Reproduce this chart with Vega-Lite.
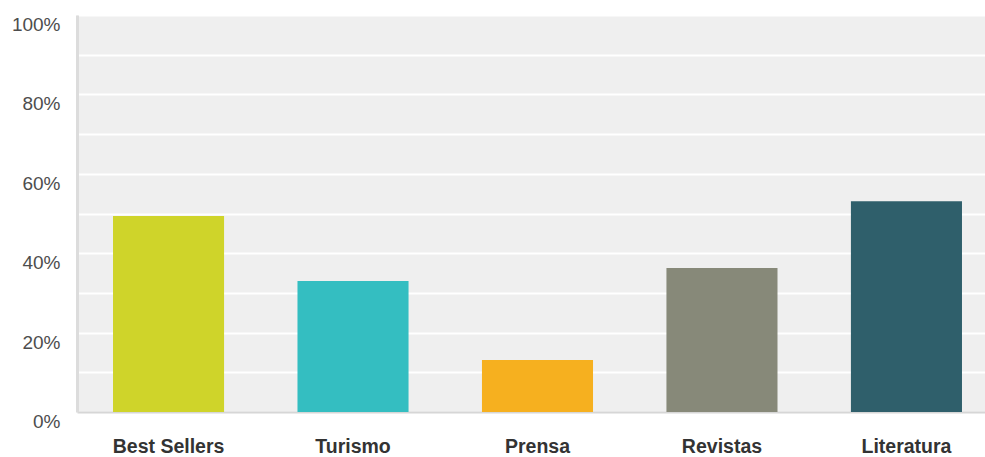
{
  "$schema": "https://vega.github.io/schema/vega-lite/v6.json",
  "autosize": "none",
  "width": 908,
  "height": 397,
  "padding": {"left": 77, "top": 15, "right": 0, "bottom": 45},
  "background": "white",
  "config": {
    "view": {"fill": "#efefef", "stroke": null},
    "font": "Liberation Sans"
  },
  "data": {
    "values": [
      {"category": "Best Sellers", "pct": 49.4, "color": "#cfd42a"},
      {"category": "Turismo", "pct": 33.0, "color": "#34bec1"},
      {"category": "Prensa", "pct": 13.1, "color": "#f6b01f"},
      {"category": "Revistas", "pct": 36.3, "color": "#878979"},
      {"category": "Literatura", "pct": 53.1, "color": "#2f5f6b"}
    ]
  },
  "mark": {"type": "bar"},
  "encoding": {
    "x": {
      "field": "category",
      "type": "nominal",
      "sort": null,
      "scale": {"paddingInner": 0.398, "paddingOuter": 0.16, "align": 0.61},
      "axis": {
        "title": null,
        "labelAngle": 0,
        "labelFont": "Liberation Sans",
        "labelFontSize": 19.5,
        "labelFontWeight": "bold",
        "labelColor": "#333333",
        "labelPadding": 25,
        "ticks": false,
        "domainColor": "#d6d6d6",
        "domainWidth": 2,
        "grid": false
      }
    },
    "y": {
      "field": "pct",
      "type": "quantitative",
      "scale": {"domain": [0, 100], "nice": false},
      "axis": {
        "title": null,
        "values": [0, 10, 20, 30, 40, 50, 60, 70, 80, 90, 100],
        "labelExpr": "datum.value % 20 == 0 ? datum.value + '%' : ''",
        "labelFont": "Liberation Sans",
        "labelFontSize": 19,
        "labelColor": "#4d4d4d",
        "labelPadding": 17,
        "labelOffset": 9.5,
        "ticks": false,
        "domainColor": "#dcdcdc",
        "domainWidth": 3,
        "gridColor": "#ffffff",
        "gridWidth": 2,
        "gridOpacity": 1
      }
    },
    "color": {"field": "color", "type": "nominal", "scale": null, "legend": null}
  }
}
